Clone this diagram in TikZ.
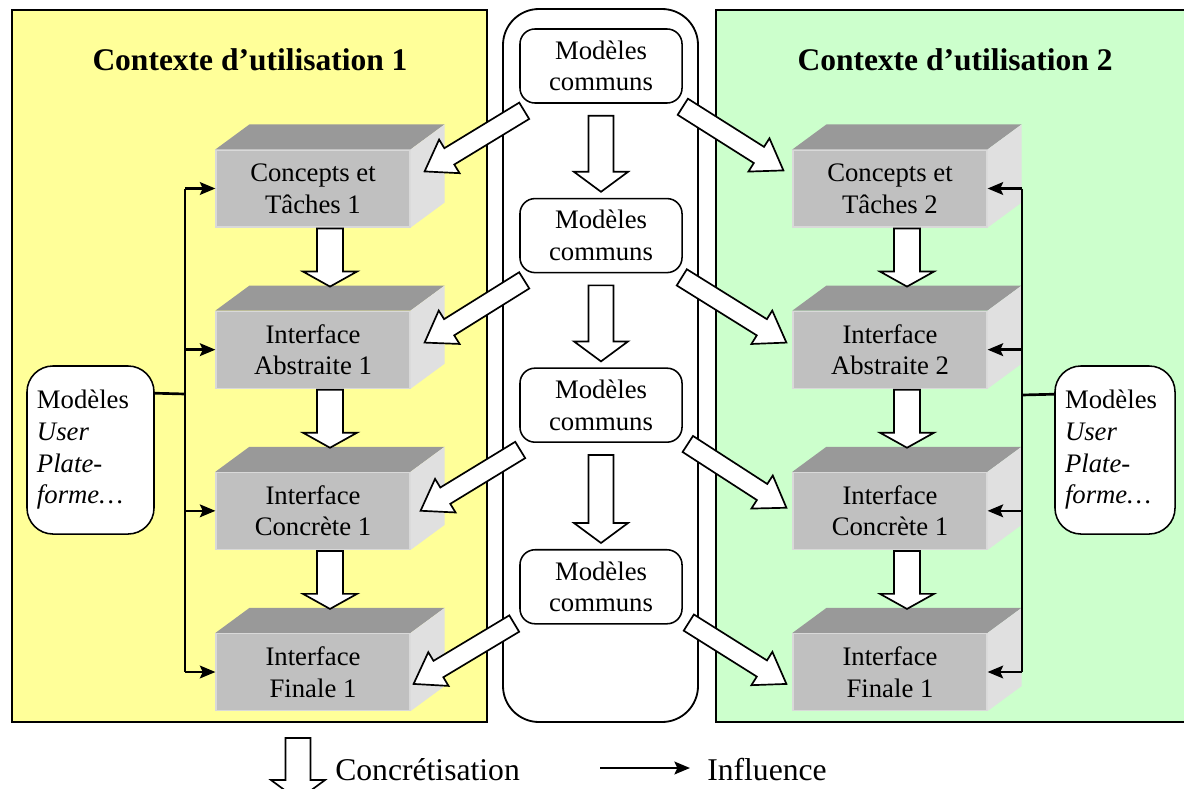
\documentclass[tikz,border=0pt]{standalone}
\usepackage{fontspec}
\setmainfont{Liberation Serif}
\usetikzlibrary{positioning,calc,arrows.meta}
\definecolor{ctxone}{HTML}{FFFF99}
\definecolor{ctxtwo}{HTML}{CCFFCC}
\definecolor{facetop}{HTML}{999999}
\definecolor{facefront}{HTML}{C0C0C0}
\definecolor{faceside}{HTML}{E0E0E0}
\def\dx{0.85cm}
\def\dy{2.075cm}
\tikzstyle{block}=[fill=facefront,draw=black!15,line width=0.8pt,minimum width=4.85cm,minimum height=1.925cm,align=center,inner sep=0pt]
\tikzstyle{common}=[draw,fill=white,line width=1.1pt,rounded corners=0.375cm,minimum width=4.05cm,minimum height=1.85cm,align=center,inner sep=0pt]
\tikzstyle{usermod}=[draw,fill=white,line width=1.1pt,rounded corners=0.65cm,minimum height=4.2cm,align=left,inner sep=0.25cm]
\tikzstyle{fat}=[draw,fill=white,line width=1.2pt,line join=miter]
\tikzstyle{infl}=[line width=1.9pt,-{Stealth[length=11pt,width=9pt,inset=2pt]}]
\tikzstyle{title}=[font=\fontsize{22.4}{26}\selectfont\bfseries]
\tikzstyle{legend}=[font=\fontsize{22.5}{26}\selectfont,anchor=west,inner sep=0pt]
\newcommand{\newBlock}[3]{%
  \node[block,#3](#1){#2};
  \fill[facetop] (#1.north west) -- ++(34,-25) -- ([shift={(34,-25)}]#1.north east) -- (#1.north east) -- cycle;
  \fill[faceside] (#1.north east) -- ++(34,-25) -- ([shift={(34,-25)}]#1.south east) -- (#1.south east) -- cycle;}
\newcommand{\fatArrow}[5]{% tail, tip, half shaft, half head, head length
  \coordinate (fa-s) at (#1);
  \coordinate (fa-e) at (#2);
  \coordinate (fa-c) at ($(fa-e)!#5!(fa-s)$);
  \draw[fat] ($(fa-s)!#3!90:(fa-e)$) -- ($(fa-c)!#3!90:(fa-e)$) -- ($(fa-c)!#4!90:(fa-e)$) -- (fa-e)
    -- ($(fa-c)!#4!-90:(fa-e)$) -- ($(fa-c)!#3!-90:(fa-e)$) -- ($(fa-s)!#3!-90:(fa-e)$) -- cycle;}

\begin{document}
\begin{tikzpicture}[x=0.025cm,y=-0.025cm,
      node distance=\dy and \dx,
      font=\fontsize{19}{22.5}\selectfont
      ]
      \useasboundingbox (0,0) rectangle (1184,789);
      % the two contexts and the column of common models
      \filldraw[fill=ctxone,line width=0.9pt] (12,10) rectangle (487,722);
      \filldraw[fill=ctxtwo,line width=0.9pt] (716,10) rectangle (1190,722);
      \filldraw[fill=white,line width=1.3pt,rounded corners=0.9cm] (503,9) rectangle (698,722);
      \node[title] (t1) at (250,60) {Contexte d’utilisation 1};
      \node[title] (t2) at (955,60) {Contexte d’utilisation 2};

      \newBlock{ct1}{Concepts et\\Tâches 1}{at={(313,188.5)}}
      \newBlock{ia1}{Interface\\Abstraite 1}{below=of ct1}
      \newBlock{ic1}{Interface\\Concrète 1}{below=of ia1}
      \newBlock{if1}{Interface\\Finale 1}{below=of ic1}
      \newBlock{ct2}{Concepts et\\Tâches 2}{at={(890,188.5)}}
      \newBlock{ia2}{Interface\\Abstraite 2}{below=of ct2}
      \newBlock{ic2}{Interface\\Concrète 1}{below=of ia2}
      \newBlock{if2}{Interface\\Finale 1}{below=of ic2}

      \node[common] (mc1) at (601,66) {Modèles\\communs};
      \node[common,below=2.35cm of mc1] (mc2) {Modèles\\communs};
      \node[common,below=2.35cm of mc2] (mc3) {Modèles\\communs};
      \node[common,below=2.65cm of mc3] (mc4) {Modèles\\communs};

      \node[usermod,text width=2.675cm] (mu1) at (90.5,450) {Modèles\\\textit{User}\\\textit{Plate-}\\\textit{forme…}};
      \node[usermod,text width=2.5cm] (mu2) at (1115,450) {Modèles\\\textit{User}\\\textit{Plate-}\\\textit{forme…}};

      % influence
      \coordinate (lbus) at (185,394);
      \coordinate (rbus) at (1022,395);
      \draw[line width=1.9pt] ([shift={(0,28)}]mu1.north east) -- (lbus);
      \draw[line width=1.9pt] (lbus |- ct1.west) -- (lbus |- if1.west);
      \draw[infl] (lbus |- ct1.west) -- (ct1.west);
      \draw[infl] (lbus |- ia1.west) -- (ia1.west);
      \draw[infl] (lbus |- ic1.west) -- (ic1.west);
      \draw[infl] (lbus |- if1.west) -- (if1.west);
      \draw[line width=1.9pt] ([shift={(0,29)}]mu2.north west) -- (rbus);
      \draw[line width=1.9pt] (rbus |- ct2.east) -- (rbus |- if2.east);
      \draw[infl] (rbus |- ct2.east) -- (ct2.east);
      \draw[infl] (rbus |- ia2.east) -- (ia2.east);
      \draw[infl] (rbus |- ic2.east) -- (ic2.east);
      \draw[infl] (rbus |- if2.east) -- (if2.east);

      % concretisation
      \fatArrow{$(ct1.south)+(17,1)$}{$(ia1.north)+(17,-24)$}{9.25pt}{19.2pt}{10.7pt}
      \fatArrow{$(ia1.south)+(17,1)$}{$(ic1.north)+(17,-24)$}{9.25pt}{19.2pt}{10.7pt}
      \fatArrow{$(ic1.south)+(17,1)$}{$(if1.north)+(17,-24)$}{9.25pt}{19.2pt}{10.7pt}
      \fatArrow{$(ct2.south)+(17,1)$}{$(ia2.north)+(17,-24)$}{9.25pt}{19.2pt}{10.7pt}
      \fatArrow{$(ia2.south)+(17,1)$}{$(ic2.north)+(17,-24)$}{9.25pt}{19.2pt}{10.7pt}
      \fatArrow{$(ic2.south)+(17,1)$}{$(if2.north)+(17,-24)$}{9.25pt}{19.2pt}{10.7pt}
      \fatArrow{$(mc1.south)+(0,12)$}{$(mc2.north)+(0,-6)$}{8.9pt}{19.2pt}{14.2pt}
      \fatArrow{$(mc2.south)+(0,12)$}{$(mc3.north)+(0,-6)$}{8.9pt}{19.2pt}{14.2pt}
      \fatArrow{$(mc3.south)+(0,12)$}{$(mc4.north)+(0,-6)$}{8.9pt}{19.2pt}{14.2pt}

      \fatArrow{$(mc1.south west)+(5,7)$}{$(ct1.north east)+(14,22)$}{6.8pt}{14pt}{20.6pt}
      \fatArrow{$(mc1.south east)+(0,3)$}{$(ct2.north west)+(-9,21)$}{6.8pt}{14pt}{20.6pt}
      \fatArrow{$(mc2.south west)+(5,7)$}{$(ia1.north east)+(14,32)$}{6.8pt}{14pt}{20.6pt}
      \fatArrow{$(mc2.south east)+(-1,4)$}{$(ia2.north west)+(-6,32)$}{6.8pt}{14pt}{20.6pt}
      \fatArrow{$(mc3.south west)+(1,7)$}{$(ic1.north east)+(10,39)$}{6.8pt}{14pt}{20.6pt}
      \fatArrow{$(mc3.south east)+(5,1)$}{$(ic2.north west)+(-6,36)$}{6.8pt}{14pt}{20.6pt}
      \fatArrow{$(mc4.south west)+(-5,-1)$}{$(if1.north east)+(3,51)$}{6.8pt}{14pt}{20.6pt}
      \fatArrow{$(mc4.south east)+(6,-2)$}{$(if2.north west)+(-6,51)$}{6.8pt}{14pt}{20.6pt}

      % legend
      \coordinate (lg-a) at (298,738);
      \coordinate (lg-b) at (298,800);
      \fatArrow{lg-a}{lg-b}{8.9pt}{19.2pt}{14.2pt}
      \node[legend] (lgc) at (335,770) {Concrétisation};
      \coordinate (li-a) at (600,768);
      \coordinate (li-b) at (690,768);
      \draw[infl] (li-a) -- (li-b);
      \node[legend] (lgi) at (707,770) {Influence};
    \end{tikzpicture}
\end{document}
